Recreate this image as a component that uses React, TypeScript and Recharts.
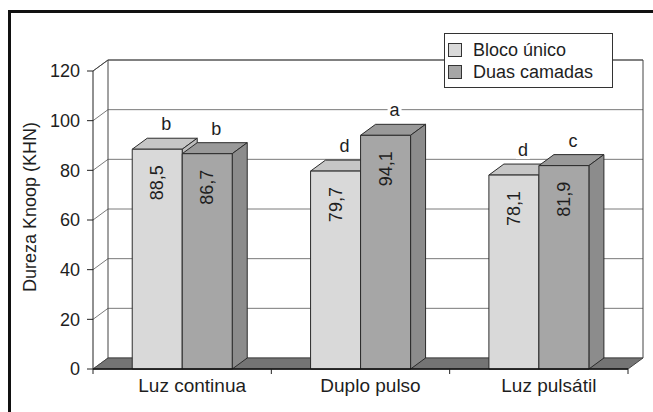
import React from 'react';
import { BarChart, Bar, XAxis, YAxis, CartesianGrid, Legend, LabelList, ReferenceArea } from 'recharts';

const categories = ['Luz continua', 'Duplo pulso', 'Luz pulsátil'];
const blocoUnico = [88.5, 79.7, 78.1];
const duasCamadas = [86.7, 94.1, 81.9];
const blocoLetters = ['b', 'd', 'd'];
const duasLetters = ['b', 'a', 'c'];
const yTicks = [0, 20, 40, 60, 80, 100, 120];

const data = categories.map((name, i) => ({
  name,
  bloco: blocoUnico[i],
  duas: duasCamadas[i],
  blocoLetter: blocoLetters[i],
  duasLetter: duasLetters[i],
}));

// depth of the fake 3D
const DX = 15;
const DY = -11;
const FONT = '"Liberation Sans", Arial, sans-serif';
const INK = '#1e1e1e';

const makeBox = (front: string, top: string, side: string) => (props: any) => {
  const { x, y, width, height } = props;
  if (!height) return null;
  return (
    <g stroke="#2b2b2b" strokeWidth={1} strokeLinejoin="round">
      <polygon points={`${x},${y} ${x + DX},${y + DY} ${x + width + DX},${y + DY} ${x + width},${y}`} fill={top} />
      <polygon
        points={`${x + width},${y} ${x + width + DX},${y + DY} ${x + width + DX},${y + height + DY} ${x + width},${y + height}`}
        fill={side}
      />
      <rect x={x} y={y} width={width} height={height} fill={front} />
    </g>
  );
};

const gridLine = (props: any) => {
  const { x1, x2, y1, index } = props;
  return (
    <g key={`grid-${index}`} stroke="#7a7a7a" strokeWidth={1}>
      <line x1={x1} y1={y1} x2={x1 + DX} y2={y1 + DY} />
      <line x1={x1 + DX} y1={y1 + DY} x2={x2 + DX} y2={y1 + DY} />
    </g>
  );
};

const Walls = (props: any) => {
  const { x, y, width, height } = props;
  const b = y + height;
  return (
    <g fill="none" stroke="#444" strokeWidth={1}>
      <polygon points={`${x},${b} ${x + DX},${b + DY} ${x + width + DX},${b + DY} ${x + width},${b}`} fill="#747474" />
      <line x1={x + DX} y1={y + DY} x2={x + DX} y2={b + DY} />
      <line x1={x + width + DX} y1={y + DY} x2={x + width + DX} y2={b + DY} />
      <line x1={x} y1={y} x2={x + DX} y2={y + DY} />
      <line x1={x + DX} y1={y + DY} x2={x + width + DX} y2={y + DY} />
    </g>
  );
};

const ValueLabel = (props: any) => {
  const { x, y, width, value } = props;
  const cx = x + width / 2;
  const ty = y + 16;
  return (
    <text
      x={cx}
      y={ty}
      transform={`rotate(-90 ${cx} ${ty})`}
      textAnchor="end"
      dominantBaseline="central"
      fontSize={18}
      fill={INK}
      fontFamily={FONT}
    >
      {String(value).replace('.', ',')}
    </text>
  );
};

const LetterLabel = (props: any) => {
  const { x, y, width, value } = props;
  const cx = x + width / 2 + 9;
  const cy = y - 25;
  return (
    <g>
      <rect x={cx - 7} y={cy - 9} width={14} height={18} fill="#fff" />
      <text x={cx} y={cy} textAnchor="middle" dominantBaseline="central" fontSize={18} fill={INK} fontFamily={FONT}>
        {value}
      </text>
    </g>
  );
};

const XTick = (props: any) => {
  const { x, y, payload, index, visibleTicksCount } = props;
  const half = payload?.offset ?? 0;
  return (
    <g>
      <line x1={x - half} y1={y} x2={x - half} y2={y + 5} stroke="#222" />
      {index === visibleTicksCount - 1 && <line x1={x + half} y1={y} x2={x + half} y2={y + 5} stroke="#222" />}
      <text x={x + 10} y={y + 23} textAnchor="middle" fontSize={19} fill={INK} fontFamily={FONT}>
        {payload.value}
      </text>
    </g>
  );
};

const YTitle = (props: any) => {
  const vb = props.viewBox || {};
  const cx = vb.x + 22;
  const cy = vb.y + vb.height / 2 - 13;
  return (
    <text
      x={cx}
      y={cy}
      transform={`rotate(-90 ${cx} ${cy})`}
      textAnchor="middle"
      dominantBaseline="central"
      fontSize={18}
      fill={INK}
      fontFamily={FONT}
    >
      Dureza Knoop (KHN)
    </text>
  );
};

const LegendBox = (props: any) => {
  const { payload = [] } = props;
  return (
    <div
      style={{
        width: 169,
        height: 55,
        boxSizing: 'border-box',
        border: '1.5px solid #333',
        background: '#fff',
        padding: '5px 0 0 3px',
        fontFamily: FONT,
        fontSize: 18,
        color: INK,
        lineHeight: '22px',
      }}
    >
      {payload.map((p: any) => (
        <div key={p.value} style={{ display: 'flex', alignItems: 'center', height: 22 }}>
          <span
            style={{
              display: 'inline-block',
              width: 12,
              height: 12,
              background: p.color,
              border: '1.5px solid #333',
              marginRight: 11,
            }}
          />
          {p.value}
        </div>
      ))}
    </div>
  );
};

export default function App() {
  return (
    <div style={{ position: 'absolute', left: 0, top: 0, width: 653, height: 412, overflow: 'hidden', background: '#fff' }}>
      <div
        style={{
          position: 'absolute',
          left: 8,
          top: 10,
          width: 700,
          height: 500,
          border: '3px solid #111',
          boxSizing: 'border-box',
        }}
      />
      <div style={{ position: 'absolute', left: 0, top: 0 }}>
        <BarChart
          width={653}
          height={412}
          data={data}
          margin={{ top: 71, right: 25, bottom: 13, left: 8 }}
          barCategoryGap="22%"
          barGap={0}
        >
          <CartesianGrid horizontal={gridLine} vertical={false} />
          <ReferenceArea y1={0} y2={120} ifOverflow="visible" shape={(p: any) => <Walls {...p} />} zIndex={-50} />
          <XAxis
            dataKey="name"
            height={30}
            tickSize={0}
            tickMargin={0}
            interval={0}
            axisLine={{ stroke: '#111', strokeWidth: 1.5 }}
            tickLine={false}
            tick={<XTick />}
          />
          <YAxis
            type="number"
            domain={[0, 120]}
            ticks={yTicks}
            interval={0}
            width={85}
            tickSize={6}
            tickMargin={7}
            axisLine={{ stroke: '#222' }}
            tickLine={{ stroke: '#222' }}
            tick={{ fontSize: 18, fill: INK, fontFamily: FONT }}
            label={<YTitle />}
          />
          <Legend
            verticalAlign="middle"
            layout="horizontal"
            wrapperStyle={{ top: 33, left: 444, width: 169, height: 55 }}
            content={LegendBox}
          />
          <Bar
            dataKey="bloco"
            name="Bloco único"
            fill="#d9d9d9"
            shape={makeBox('#d9d9d9', '#c6c6c6', '#bcbcbc')}
            isAnimationActive={false}
          >
            <LabelList dataKey="bloco" content={ValueLabel} />
            <LabelList dataKey="blocoLetter" content={LetterLabel} />
          </Bar>
          <Bar
            dataKey="duas"
            name="Duas camadas"
            fill="#a6a6a6"
            shape={makeBox('#a6a6a6', '#999999', '#8c8c8c')}
            isAnimationActive={false}
          >
            <LabelList dataKey="duas" content={ValueLabel} />
            <LabelList dataKey="duasLetter" content={LetterLabel} />
          </Bar>
        </BarChart>
      </div>
    </div>
  );
}
